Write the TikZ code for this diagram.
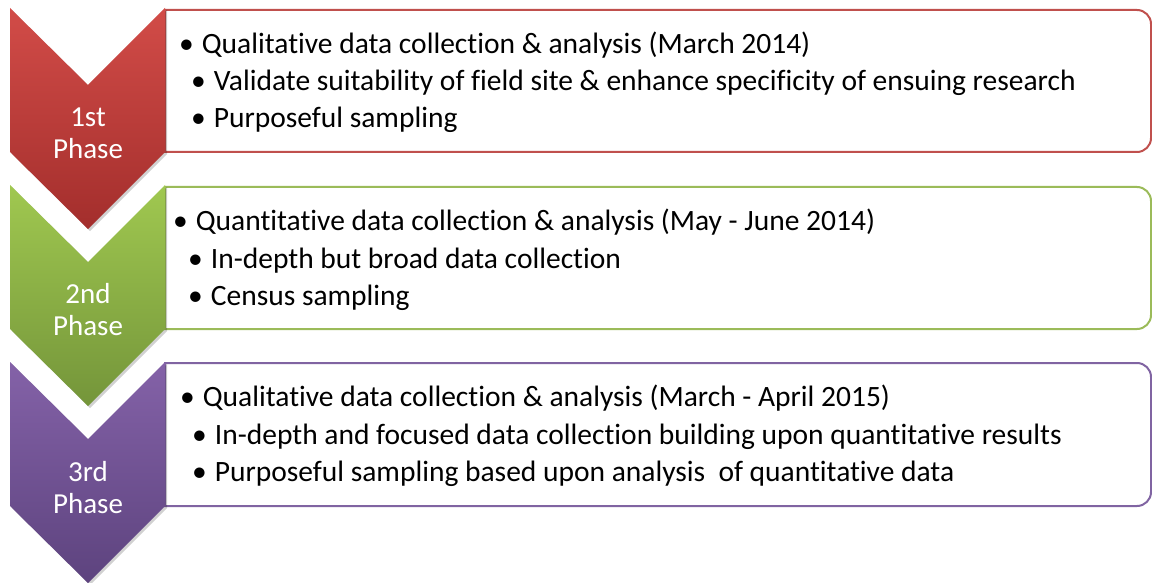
\documentclass[tikz,border=0pt]{standalone}
\usepackage{fontspec}
\setmainfont{Carlito}[Ligatures=NoCommon]

\definecolor{redtop}{HTML}{D24C48}
\definecolor{redbot}{HTML}{A32E2C}
\definecolor{redline}{HTML}{C0504D}
\definecolor{greentop}{HTML}{A0C850}
\definecolor{greenbot}{HTML}{74953A}
\definecolor{greenline}{HTML}{9BBB59}
\definecolor{purptop}{HTML}{8462A8}
\definecolor{purpbot}{HTML}{5D437E}
\definecolor{purpline}{HTML}{8064A2}

\newcommand{\bul}{\textbullet\hspace{8pt}}

\tikzset{
  chevron/.style={top color=#1top, bottom color=#1bot, draw=none},
  chevshadow/.style={fill=black, opacity=0.18},
  phasebox/.style={draw=#1line, line width=2pt, fill=white},
  phaselabel/.style={text=white, align=center, font=\fontsize{29}{32}\selectfont},
  item/.style={anchor=base west, inner sep=0pt, font=\fontsize{29.5}{36}\selectfont},
}

\begin{document}
\begin{tikzpicture}[x=1pt,y=-1pt]
  \useasboundingbox (0,0) rectangle (1152,583);

\begin{scope}[yshift=-8pt]
    \draw[phasebox=red] (165,2) -- (1137,2) to[out=0,in=90] (1151,16) -- (1151,130) to[out=-90,in=0] (1137,144) -- (165,144) -- cycle;
    \fill[chevshadow] (12,2) -- (90,79) -- (167,2) -- (167,146) -- (90,223) -- (12,146) -- cycle;
    \shade[chevron=red] (10,0) -- (88,77) -- (165,0) -- (165,144) -- (88,221) -- (10,144) -- cycle;
    \node[phaselabel] (first) at (88,125) {1st\\Phase};
    \node[item] (firstA) at (179,46) {\bul Qualitative data collection \& analysis (March 2014)};
    \node[item] (firstB) at (191,83) {\bul Validate suitability of field site \& enhance specificity of ensuing research};
    \node[item] (firstC) at (191,120) {\bul Purposeful sampling};
\end{scope}

\begin{scope}[yshift=-185pt]
    \draw[phasebox=green] (165,2) -- (1137,2) to[out=0,in=90] (1151,16) -- (1151,130) to[out=-90,in=0] (1137,144) -- (165,144) -- cycle;
    \fill[chevshadow] (12,2) -- (90,79) -- (167,2) -- (167,146) -- (90,223) -- (12,146) -- cycle;
    \shade[chevron=green] (10,0) -- (88,77) -- (165,0) -- (165,144) -- (88,221) -- (10,144) -- cycle;
    \node[phaselabel] (second) at (88,125) {2nd\\Phase};
    \node[item] (secondA) at (173,45) {\bul Quantitative data collection \& analysis (May - June 2014)};
    \node[item] (secondB) at (188,83) {\bul In-depth but broad data collection};
    \node[item] (secondC) at (188,120) {\bul Census sampling};
\end{scope}

\begin{scope}[yshift=-362pt]
    \draw[phasebox=purp] (165,1) -- (1137,1) to[out=0,in=90] (1151,15) -- (1151,130) to[out=-90,in=0] (1137,144) -- (165,144) -- cycle;
    \fill[chevshadow] (12,2) -- (90,79) -- (167,2) -- (167,146) -- (90,223) -- (12,146) -- cycle;
    \shade[chevron=purp] (10,0) -- (88,77) -- (165,0) -- (165,144) -- (88,221) -- (10,144) -- cycle;
    \node[phaselabel] (third) at (88,126) {3rd\\Phase};
    \node[item] (thirdA) at (180,44) {\bul Qualitative data collection \& analysis (March - April 2015)};
    \node[item] (thirdB) at (192,82) {\bul In-depth and focused data collection building upon quantitative results};
    \node[item] (thirdC) at (192,119) {\bul Purposeful sampling based upon analysis\ \ of quantitative data};
\end{scope}

\end{tikzpicture}
\end{document}
